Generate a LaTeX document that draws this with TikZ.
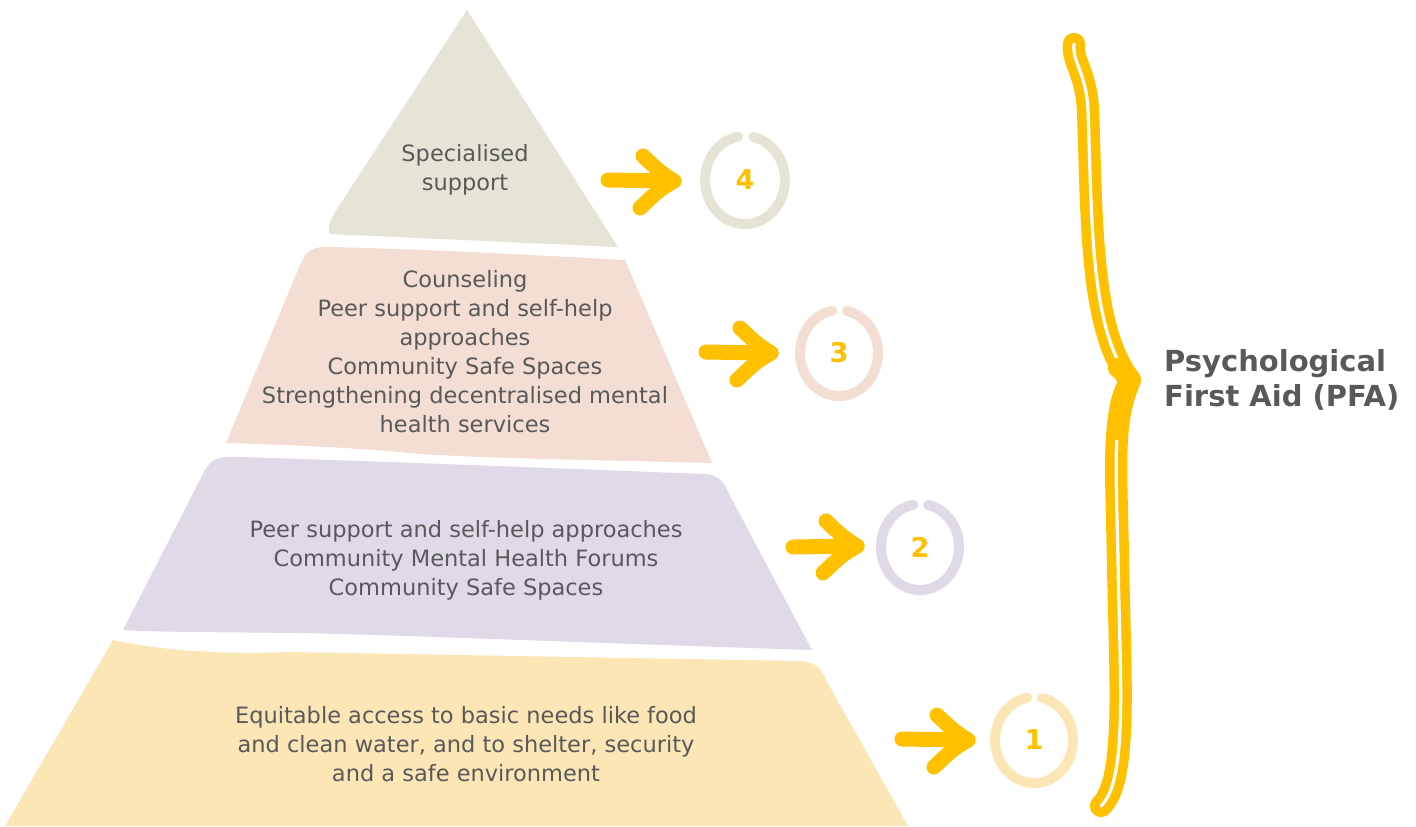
\documentclass[tikz,border=0pt]{standalone}
\usepackage{fontspec}
\setmainfont{DejaVu Sans}
\usepackage{xcolor}
\usepackage{tikz}
\usetikzlibrary{positioning}

\definecolor{pfayellow}{HTML}{FFC000}
\definecolor{txtgrey}{HTML}{595959}
\definecolor{lvlgrey}{HTML}{E6E4D7}
\definecolor{lvlpink}{HTML}{F4DDD3}
\definecolor{lvllilac}{HTML}{E0D9E7}
\definecolor{lvlsand}{HTML}{FCE6B6}

\begin{document}
\begin{tikzpicture}[
    x=0.02cm, y=-0.02cm,
    layer/.style={draw=none},
    txt/.style={align=center, text=txtgrey, font=\fontsize{12.8}{16.5}\selectfont},
    num/.style={text=pfayellow, font=\fontsize{15.5}{18}\selectfont\bfseries},
    ring/.style={line width=0.2cm, line cap=round},
    arrow/.style={draw=pfayellow, line width=0.3cm, line cap=round, line join=round},
    brace/.style={draw=pfayellow, double=white, line width=0.19cm, double distance=0.065cm, line cap=round, line join=round}
]
    \useasboundingbox (0,0) rectangle (1416,826);

    % pyramid layers, bottom to top
    \fill[layer, lvlsand] (5,826) -- (113,640) .. controls (160,650) and (220,655) .. (290,652)
        -- (800,661) .. controls (815,662) and (822,668) .. (826,680) -- (908,826) -- cycle;
    \fill[layer, lvllilac] (123,630) -- (205,470) .. controls (212,458) and (220,456) .. (240,457)
        .. controls (400,462) and (600,470) .. (705,474) .. controls (718,475) and (724,482) .. (728,492)
        -- (812,650) .. controls (650,645) and (400,635) .. (300,633) .. controls (200,632) and (150,632) .. (123,630) -- cycle;
    \fill[layer, lvlpink] (226,443) -- (300,265) .. controls (306,251) and (312,246) .. (330,247)
        .. controls (450,250) and (550,256) .. (625,260) -- (712,463)
        .. controls (600,460) and (450,458) .. (400,452) .. controls (330,446) and (260,444) .. (226,443) -- cycle;
    \fill[layer, lvlgrey] (467,10) -- (618,247) -- (330,234) .. controls (325,226) and (334,214) .. (348,192) -- cycle;

    \node[txt] (lvlfour) at (465,170) {Specialised\\support};
    \node[txt] (lvlthree) at (465,352) {Counseling\\Peer support and self-help\\approaches\\Community Safe Spaces\\Strengthening decentralised mental\\health services};
    \node[txt] (lvltwo) at (466,560) {Peer support and self-help approaches\\Community Mental Health Forums\\Community Safe Spaces};
    \node[txt] (lvlone) at (466,744) {Equitable access to basic needs like food\\and clean water, and to shelter, security\\and a safe environment};

    % numbered rings
    \node[num] (n4) at (745,180) {4};
    \node[num] (n3) at (839,353) {3};
    \node[num] (n2) at (920,547) {2};
    \node[num] (n1) at (1034,740) {1};
    \draw[ring, lvlgrey] ([shift={(8.3,-43)}]n4.center) arc[start angle=282, end angle=620, x radius=40, y radius=44];
    \draw[ring, lvlpink] ([shift={(8.1,-42)}]n3.center) arc[start angle=282, end angle=620, x radius=39, y radius=43];
    \draw[ring, lvllilac] ([shift={(8.1,-42)}]n2.center) arc[start angle=282, end angle=620, x radius=39, y radius=43];
    \draw[ring, lvlsand] ([shift={(8.1,-42)}]n1.center) arc[start angle=282, end angle=620, x radius=39, y radius=43];

    % arrows
    \coordinate (s4) at (608,180);
    \coordinate (t4) at (674,181);
    \coordinate (s3) at (706,352);
    \coordinate (t3) at (771,353);
    \coordinate (s2) at (793,547);
    \coordinate (t2) at (857,546);
    \coordinate (s1) at (902,739);
    \coordinate (t1) at (968,740);
    \foreach \i in {1,2,3,4} {
        \draw[arrow] (s\i) -- (t\i);
        \draw[arrow] ([shift={(-31,-25)}]t\i) .. controls ([shift={(-14,-9)}]t\i) .. (t\i)
            .. controls ([shift={(-15,9)}]t\i) .. ([shift={(-34,27)}]t\i);
    }

    % brace
    \coordinate (btop) at (1074,44);
    \coordinate (btip) at (1130,380);
    \coordinate (bend) at (1101,806);
    \draw[brace] (btop) .. controls (1072,62) and (1086,72) .. (1088,110)
        .. controls (1092,220) and (1090,330) .. (btip)
        .. controls (1112,420) and (1116,460) .. (1118,560)
        .. controls (1120,680) and (1128,780) .. (bend);
    \draw[draw=pfayellow, line width=0.4cm, line cap=round, line join=round]
        (1118,368) .. controls (1125,373) .. (btip) .. controls (1120,400) .. (1117,430);

    \node[anchor=west, align=left, text=txtgrey, font=\fontsize{16.5}{19.5}\selectfont\bfseries] (pfa) at (1158,380) {Psychological\\First Aid (PFA)};
\end{tikzpicture}
\end{document}
